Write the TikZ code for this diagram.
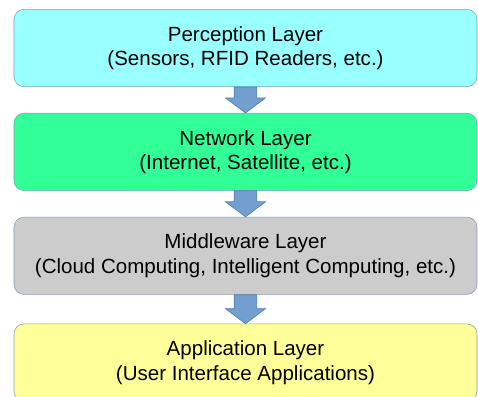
\documentclass[tikz,border=0pt]{standalone}
\usepackage{fontspec}
\setmainfont{Liberation Sans}
\usepackage{tikz}
\usetikzlibrary{positioning,calc}

\definecolor{percfill}{HTML}{99FFFF}
\definecolor{netfill}{HTML}{33FF99}
\definecolor{midfill}{HTML}{CCCCCC}
\definecolor{appfill}{HTML}{FFFF99}
\definecolor{boxline}{HTML}{7F9DB9}
\definecolor{arrowfill}{HTML}{729FCF}
\definecolor{arrowline}{HTML}{4F7FB8}

% fat block arrow from the bottom of one layer to the top of the next
\newcommand{\layerarrow}[2]{%
    \draw[flow] ($(#1.south)+(-8.5pt,0)$) -- ($(#1.south)+(8.5pt,0)$)
        -- ($(#2.north)+(8.5pt,11.25pt)$) -- ($(#2.north)+(15pt,11.25pt)$)
        -- (#2.north) -- ($(#2.north)+(-15pt,11.25pt)$)
        -- ($(#2.north)+(-8.5pt,11.25pt)$) -- cycle;}

\begin{document}
\begin{tikzpicture}[
        x=0.75pt,
        y=-0.75pt,
        font=\fontsize{15.4}{18.2}\selectfont,
        layer/.style={draw=boxline, rounded corners=7.5pt, align=center,
            minimum width=347.25pt, minimum height=58pt, inner sep=0pt},
        flow/.style={fill=arrowfill, draw=arrowline, line width=0.5pt}
    ]
        \useasboundingbox (0,0) rectangle (478,396);

        \node[layer, fill=percfill] (perc) at (245.5,48) {Perception Layer\\(Sensors, RFID Readers, etc.)};
        \node[layer, fill=netfill, below=19.5pt of perc] (net) {Network Layer\\(Internet, Satellite, etc.)};
        \node[layer, fill=midfill, below=19.5pt of net] (mid) {Middleware Layer\\(Cloud Computing, Intelligent Computing, etc.)};
        \node[layer, fill=appfill, below=21.75pt of mid] (app) {Application Layer\\(User Interface Applications)};

        \layerarrow{perc}{net}
        \layerarrow{net}{mid}
        \layerarrow{mid}{app}
    \end{tikzpicture}
\end{document}
